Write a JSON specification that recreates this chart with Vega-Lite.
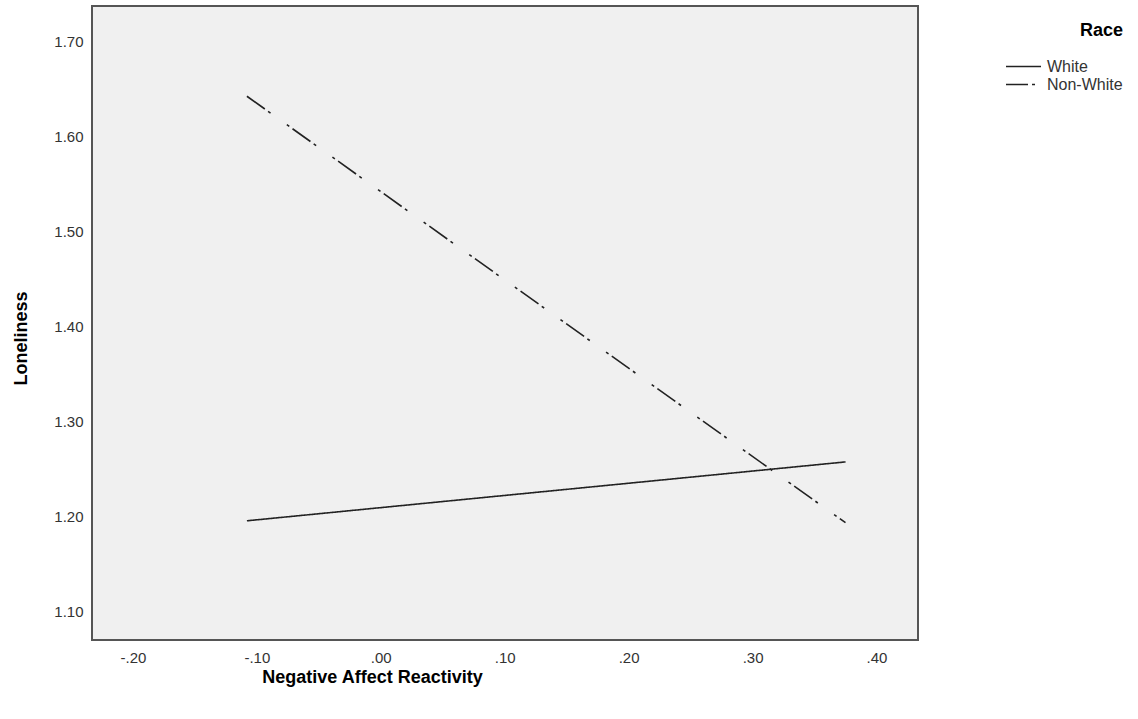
{
  "$schema": "https://vega.github.io/schema/vega-lite/v6.json",
  "autosize": "none",
  "width": 826,
  "height": 634,
  "padding": {"left": 92, "top": 6, "right": 220, "bottom": 79},
  "background": "white",
  "config": {
    "font": "Liberation Sans",
    "view": {"fill": "#f0f0f0", "stroke": "#555555", "strokeWidth": 2},
    "axis": {"grid": false, "domain": false, "ticks": false, "tickSize": 0, "labelFont": "Liberation Sans", "labelFontSize": 15, "labelColor": "#333333", "titleFont": "Liberation Sans", "titleFontSize": 18, "titleFontWeight": "bold", "titleColor": "#000000"}
  },
  "data": {
    "values": [
      {"x": -0.108, "y": 1.195, "race": "White"},
      {"x": 0.375, "y": 1.257, "race": "White"},
      {"x": -0.108, "y": 1.642, "race": "Non-White"},
      {"x": 0.375, "y": 1.193, "race": "Non-White"}
    ]
  },
  "mark": {"type": "line", "color": "#222222", "strokeWidth": 1.6},
  "encoding": {
    "x": {
      "field": "x", "type": "quantitative",
      "scale": {"domain": [-0.233, 0.4335], "nice": false, "zero": false},
      "axis": {
        "title": "Negative Affect Reactivity",
        "values": [-0.2, -0.1, 0, 0.1, 0.2, 0.3, 0.4],
        "labelExpr": "datum.value < -0.00001 ? '-' + replace(format(-datum.value, '.2f'), '0.', '.') : replace(format(abs(datum.value), '.2f'), '0.', '.')",
        "labelPadding": 10,
        "titleX": 280,
        "titleY": 42,
        "titleBaseline": "alphabetic",
        "labelFlush": false
      }
    },
    "y": {
      "field": "y", "type": "quantitative",
      "scale": {"domain": [1.0695, 1.737], "nice": false, "zero": false},
      "axis": {
        "title": "Loneliness",
        "values": [1.1, 1.2, 1.3, 1.4, 1.5, 1.6, 1.7],
        "format": ".2f",
        "labelPadding": 9,
        "titleX": -66,
        "titleY": 332,
        "titleAngle": -90,
        "titleBaseline": "alphabetic",
        "labelFlush": false
      }
    },
    "strokeDash": {
      "field": "race", "type": "nominal",
      "scale": {"domain": ["White", "Non-White"], "range": [[1, 0], [22, 4, 3, 20, 3, 4]]},
      "legend": {
        "title": "Race",
        "orient": "none",
        "legendX": 922,
        "legendY": 16,
        "padding": 0,
        "titleFontSize": 18,
        "titleFontWeight": "bold",
        "titleColor": "#000000",
        "titleAnchor": "end",
        "titlePadding": 17,
        "symbolType": "M-2,0H2",
        "symbolSize": 306,
        "symbolStrokeWidth": 1.5,
        "symbolStrokeColor": "#222222",
        "symbolFillColor": "transparent",
        "labelFontSize": 16,
        "labelColor": "#333333",
        "labelOffset": 14,
        "rowPadding": 0
      }
    }
  }
}
